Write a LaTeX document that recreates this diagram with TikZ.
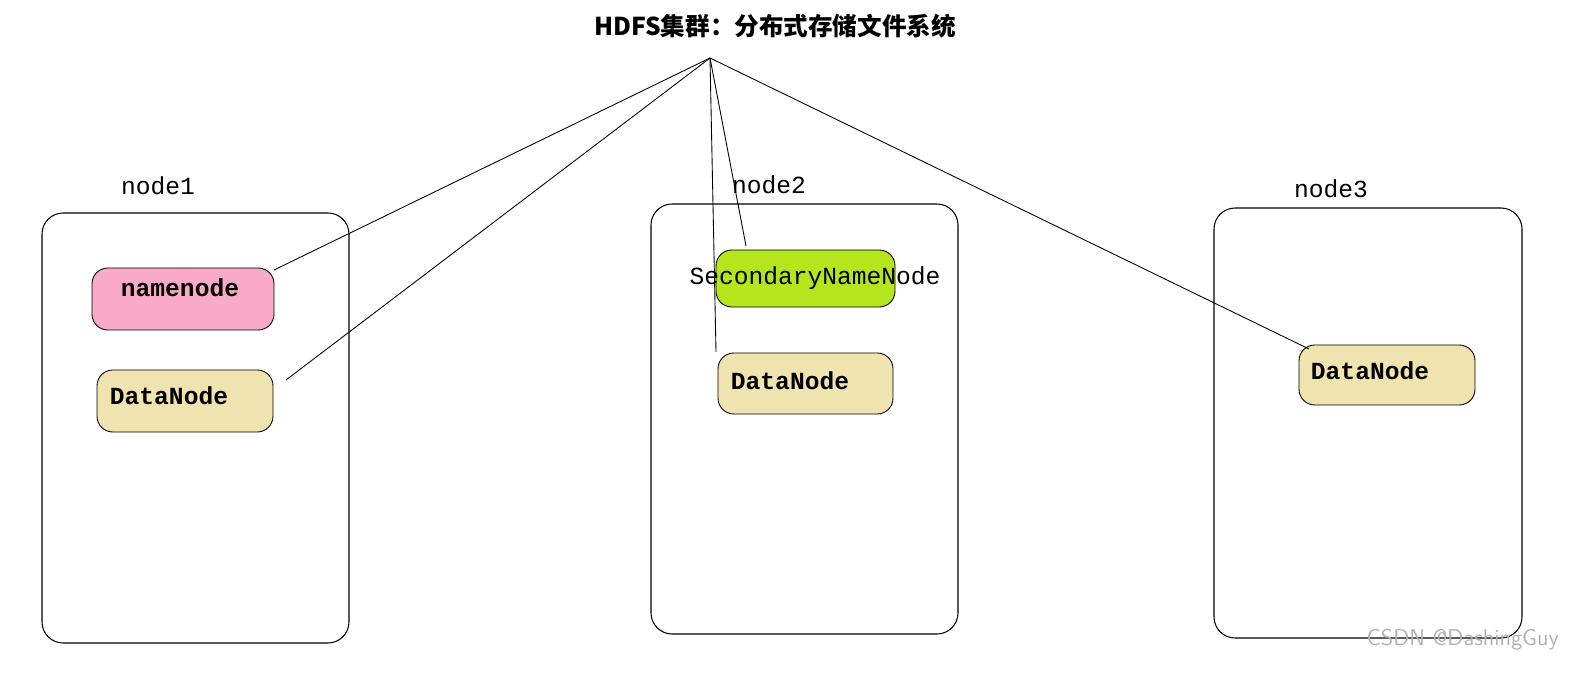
\documentclass[tikz,border=0pt]{standalone}
\usepackage{fontspec}
\setmonofont{Liberation Mono}
\newfontfamily\cjk{Noto Sans CJK SC}
\begin{document}
\begin{tikzpicture}[x=0.02cm,y=-0.02cm,
  box/.style={draw,rounded corners=12pt,line width=0.6pt},
  proc/.style={draw,rounded corners=9pt,line width=0.5pt},
  lbl/.style={font=\ttfamily\fontsize{14}{16}\selectfont},
  plbl/.style={font=\ttfamily\bfseries\fontsize{14}{16}\selectfont},
  link/.style={line width=0.5pt}]
\node[font=\cjk\bfseries\fontsize{14}{16}\selectfont] (title) at (775,26) {HDFS集群：分布式存储文件系统};
\coordinate (apex) at (710,58);
\draw[box] (42,213) rectangle (349,643);
\draw[box] (651,204) rectangle (958,634);
\draw[box] (1214,208) rectangle (1522,638);
\node[lbl] (n1) at (158,186) {node1};
\node[lbl] (n2) at (769,185) {node2};
\node[lbl] (n3) at (1331,189) {node3};
\draw[proc,fill={rgb,255:red,249;green,170;blue,200}] (92,268) rectangle (274,330);
\node[plbl] (nn) at (180,288) {namenode};
\draw[proc,fill={rgb,255:red,239;green,228;blue,176}] (97,370) rectangle (273,432);
\node[plbl] (dn1) at (169,396) {DataNode};
\draw[proc,fill={rgb,255:red,181;green,230;blue,29}] (716,250) rectangle (895,307);
\node[lbl] (snn) at (815,278) {SecondaryNameNode};
\draw[proc,fill={rgb,255:red,239;green,228;blue,176}] (718,353) rectangle (893,414);
\node[plbl] (dn2) at (790,381) {DataNode};
\draw[proc,fill={rgb,255:red,239;green,228;blue,176}] (1299,345) rectangle (1475,405);
\node[plbl] (dn3) at (1370,371) {DataNode};
\coordinate (e1) at (274,270);
\coordinate (e2) at (286,380);
\coordinate (e3) at (716,352);
\coordinate (e4) at (746,246);
\coordinate (e5) at (1309,349);
\foreach \e in {e1,e2,e3,e4,e5} \draw[link] (apex) -- (\e);
\node[font=\sffamily\fontsize{13}{15}\selectfont,text=gray!60,anchor=east] (wm) at (1565,640) {CSDN @DashingGuy};
\pgfresetboundingbox
\path[use as bounding box] (0,0) rectangle (1588,678);
\end{tikzpicture}
\end{document}
